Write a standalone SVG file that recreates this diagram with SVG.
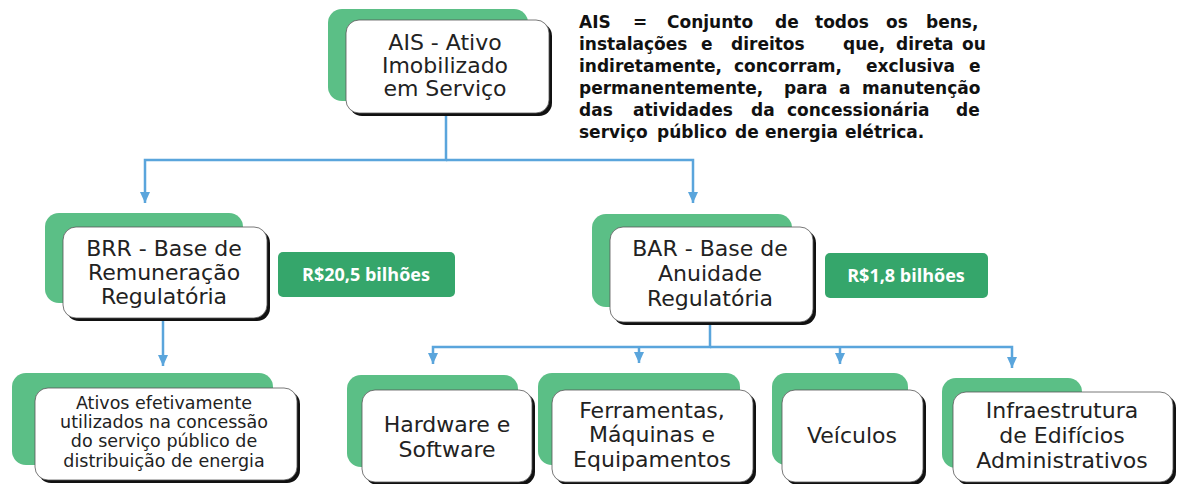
<svg xmlns="http://www.w3.org/2000/svg" width="1179" height="484" viewBox="0 0 1179 484">
<style>
.g{fill:#5bbf86}
.sh{fill:#111}
.w{fill:#fff;stroke:#555;stroke-width:0.8}
.t{font-family:"DejaVu Sans",Verdana,sans-serif;fill:#222;text-anchor:middle}
.lab{fill:#35a66b}
.lt{font-family:"Open Sans","DejaVu Sans",sans-serif;font-weight:700;font-size:18px;fill:#fff;text-anchor:middle}
.c{fill:none;stroke:#5aa5dc;stroke-width:2.5}
.d{font-family:"DejaVu Sans",Verdana,sans-serif;font-weight:700;font-size:17px;fill:#111}
</style>
<defs>
<marker id="ar" markerUnits="userSpaceOnUse" markerWidth="12" markerHeight="12" viewBox="0 0 12 12" refX="11" refY="6" orient="auto">
<path d="M0,1 L11,6 L0,11 Z" fill="#5aa5dc"/>
</marker>
</defs>
<g id="connectors">
<path class="c" d="M446,113 V160 H145 V203" marker-end="url(#ar)"/>
<path class="c" d="M446,160 H693 V203" marker-end="url(#ar)"/>
<path class="c" d="M163,318 V366" marker-end="url(#ar)"/>
<path class="c" d="M710,322 V347 H433 V364" marker-end="url(#ar)"/>
<path class="c" d="M710,347 H1012 V368" marker-end="url(#ar)"/>
<path class="c" d="M639,347 V363" marker-end="url(#ar)"/>
<path class="c" d="M840,347 V364" marker-end="url(#ar)"/>
</g>
<g id="ais">
<rect class="g" x="328" y="9" width="200" height="92" rx="14"/>
<rect class="sh" x="349" y="23" width="203" height="93" rx="13"/>
<rect class="w" x="346" y="20" width="203" height="93" rx="13"/>
<text class="t" font-size="22" x="445" y="50">AIS - Ativo</text>
<text class="t" font-size="22" x="445" y="73">Imobilizado</text>
<text class="t" font-size="22" x="445" y="96">em Serviço</text>
</g>
<g id="ais-def" class="d">
<text y="28"><tspan x="579">AIS</tspan><tspan x="633">=</tspan><tspan x="667">Conjunto</tspan><tspan x="775">de</tspan><tspan x="815">todos</tspan><tspan x="886">os</tspan><tspan x="926">bens,</tspan></text>
<text y="50"><tspan x="579">instalações</tspan><tspan x="701">e</tspan><tspan x="731">direitos</tspan><tspan x="843">que,</tspan><tspan x="896">direta</tspan><tspan x="962">ou</tspan></text>
<text y="72"><tspan x="579">indiretamente,</tspan><tspan x="734">concorram,</tspan><tspan x="866">exclusiva</tspan><tspan x="969">e</tspan></text>
<text y="94"><tspan x="579">permanentemente,</tspan><tspan x="784">para</tspan><tspan x="839">a</tspan><tspan x="862">manutenção</tspan></text>
<text y="116"><tspan x="579">das</tspan><tspan x="633">atividades</tspan><tspan x="751">da</tspan><tspan x="787">concessionária</tspan><tspan x="956">de</tspan></text>
<text y="138"><tspan x="579">serviço</tspan><tspan x="657">público</tspan><tspan x="735">de</tspan><tspan x="765">energia</tspan><tspan x="845">elétrica.</tspan></text>
</g>
<g id="brr">
<rect class="g" x="45" y="213" width="198" height="90" rx="14"/>
<rect class="sh" x="66" y="230" width="204" height="91" rx="13"/>
<rect class="w" x="63" y="227" width="204" height="91" rx="13"/>
<text class="t" font-size="22" x="164" y="256">BRR - Base de</text>
<text class="t" font-size="22" x="164" y="280">Remuneração</text>
<text class="t" font-size="22" x="164" y="304">Regulatória</text>
</g>
<g id="brr-value">
<rect class="lab" x="278" y="252" width="177" height="45" rx="5"/>
<text class="lt" x="366" y="281">R$20,5 bilhões</text>
</g>
<g id="ativos">
<rect class="g" x="12" y="373" width="261" height="92" rx="14"/>
<rect class="sh" x="38" y="391" width="262" height="92" rx="13"/>
<rect class="w" x="35" y="388" width="262" height="92" rx="13"/>
<text class="t" font-size="17.5" x="164" y="409">Ativos efetivamente</text>
<text class="t" font-size="17.5" x="164" y="428">utilizados na concessão</text>
<text class="t" font-size="17.5" x="164" y="447">do serviço público de</text>
<text class="t" font-size="17.5" x="164" y="467">distribuição de energia</text>
</g>
<g id="bar">
<rect class="g" x="592" y="214" width="200" height="93" rx="14"/>
<rect class="sh" x="613" y="230" width="203" height="95" rx="13"/>
<rect class="w" x="610" y="227" width="203" height="95" rx="13"/>
<text class="t" font-size="22" x="710" y="256">BAR - Base de</text>
<text class="t" font-size="22" x="710" y="281">Anuidade</text>
<text class="t" font-size="22" x="710" y="306">Regulatória</text>
</g>
<g id="bar-value">
<rect class="lab" x="825" y="253" width="163" height="45" rx="5"/>
<text class="lt" x="906" y="282">R$1,8 bilhões</text>
</g>
<g id="hardware">
<rect class="g" x="347" y="375" width="171" height="92" rx="14"/>
<rect class="sh" x="365" y="393" width="170" height="92" rx="13"/>
<rect class="w" x="362" y="390" width="170" height="92" rx="13"/>
<text class="t" font-size="22" x="447" y="432">Hardware e</text>
<text class="t" font-size="22" x="447" y="457">Software</text>
</g>
<g id="ferramentas">
<rect class="g" x="538" y="373" width="202" height="92" rx="14"/>
<rect class="sh" x="555" y="393" width="201" height="92" rx="13"/>
<rect class="w" x="552" y="390" width="201" height="92" rx="13"/>
<text class="t" font-size="22" x="652" y="418">Ferramentas,</text>
<text class="t" font-size="22" x="652" y="442">Máquinas e</text>
<text class="t" font-size="22" x="652" y="467">Equipamentos</text>
</g>
<g id="veiculos">
<rect class="g" x="772" y="373" width="136" height="92" rx="14"/>
<rect class="sh" x="785" y="393" width="141" height="92" rx="13"/>
<rect class="w" x="782" y="390" width="141" height="92" rx="13"/>
<text class="t" font-size="22" x="852" y="443">Veículos</text>
</g>
<g id="infra">
<rect class="g" x="942" y="378" width="140" height="90" rx="14"/>
<rect class="sh" x="956" y="395" width="220" height="90" rx="13"/>
<rect class="w" x="953" y="392" width="220" height="90" rx="13"/>
<text class="t" font-size="22" x="1062" y="418">Infraestrutura</text>
<text class="t" font-size="22" x="1062" y="443">de Edifícios</text>
<text class="t" font-size="22" x="1062" y="468">Administrativos</text>
</g>
</svg>
